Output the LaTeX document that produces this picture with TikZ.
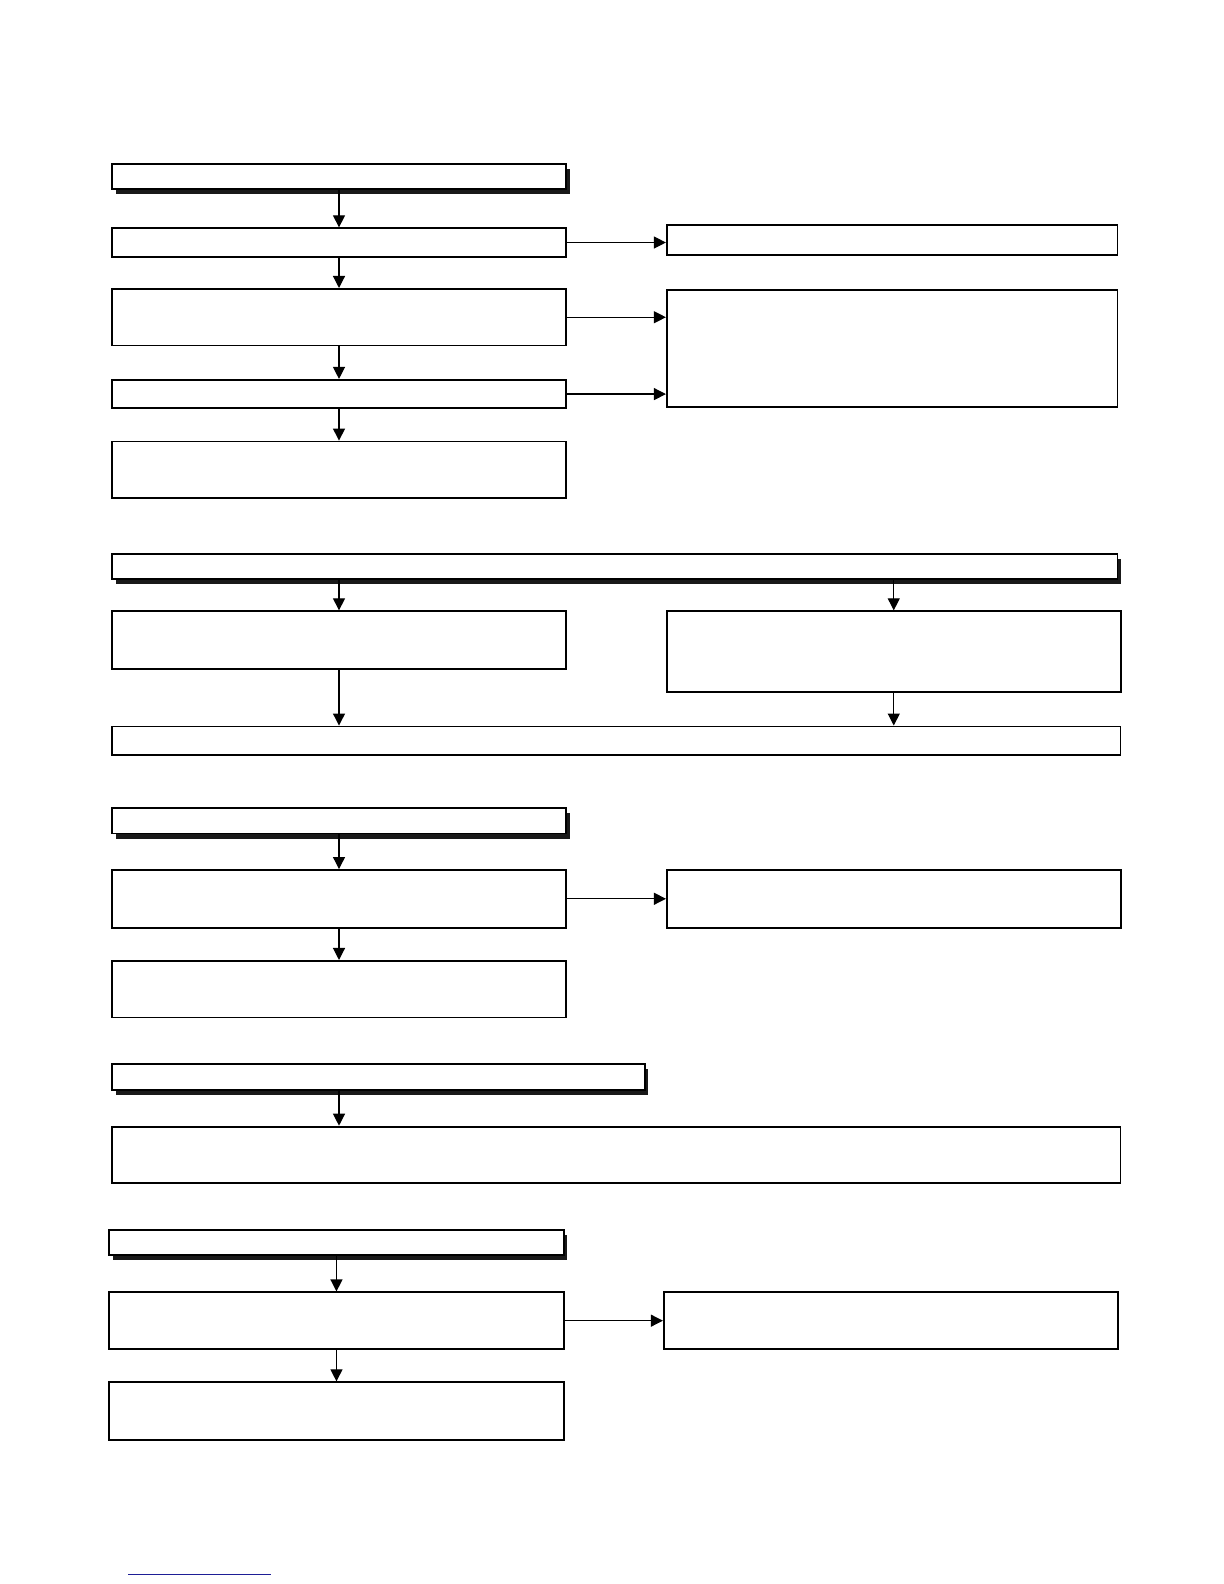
\documentclass[tikz,border=0pt]{standalone}
\usetikzlibrary{arrows.meta, shadows}
\definecolor{linkblue}{RGB}{30,30,150}
\tikzstyle{item} = [rectangle, anchor=north west, draw=black, line width=0.95pt, fill=white, inner sep=0pt]
\tikzstyle{head} = [item, drop shadow={shadow xshift=1.8pt, shadow yshift=-2.5pt, fill=black!90, opacity=1}]
\tikzstyle{arrow} = [line width=0.6pt, -{Triangle[length=6pt, width=6pt]}]

\begin{document}
\begin{tikzpicture}[x=0.50525pt, y=-0.50525pt]
    % first block
    \node (head-a) [head, minimum width=226.9pt, minimum height=12.6pt] at (110,161) {};
    \node (a1)     [item, minimum width=226.9pt, minimum height=14.2pt] at (110,225) {};
    \node (a2)     [item, minimum width=226.9pt, minimum height=28.3pt] at (110,285) {};
    \node (a3)     [item, minimum width=226.9pt, minimum height=14.2pt] at (110,375) {};
    \node (a4)     [item, minimum width=226.9pt, minimum height=28.3pt] at (110,436) {};
    \node (ra1)    [item, minimum width=225.3pt, minimum height=14.7pt] at (659,222) {};
    \node (ra2)    [item, minimum width=225.3pt, minimum height=58.6pt] at (659,286) {};

    \draw [arrow] (head-a) -- (a1);
    \draw [arrow] (a1) -- (a2);
    \draw [arrow] (a2) -- (a3);
    \draw [arrow] (a3) -- (a4);
    \draw [arrow] (a1.east) -- (a1.east -| ra1.west);
    \draw [arrow] (a2.east) -- (a2.east -| ra2.west);
    \draw [arrow] (a3.east) -- (a3.east -| ra2.west);

    % second block
    \node (head-b) [head, minimum width=502.7pt, minimum height=12.6pt] at (110,547) {};
    \node (b1)     [item, minimum width=226.9pt, minimum height=28.8pt] at (110,604) {};
    \node (b2)     [item, minimum width=226.9pt, minimum height=40.4pt] at (659,604) {};
    \node (b3)     [item, minimum width=504.2pt, minimum height=14.2pt] at (110,718) {};

    \draw [arrow] (b1 |- head-b.south) -- (b1);
    \draw [arrow] (b2 |- head-b.south) -- (b2);
    \draw [arrow] (b1) -- (b1 |- b3.north);
    \draw [arrow] (b2) -- (b2 |- b3.north);

    % third block
    \node (head-c) [head, minimum width=226.9pt, minimum height=12.6pt] at (110,799) {};
    \node (c1)     [item, minimum width=226.9pt, minimum height=28.8pt] at (110,860) {};
    \node (c2)     [item, minimum width=226.9pt, minimum height=28.8pt] at (659,860) {};
    \node (c3)     [item, minimum width=226.9pt, minimum height=28.3pt] at (110,950) {};

    \draw [arrow] (head-c) -- (c1);
    \draw [arrow] (c1) -- (c3);
    \draw [arrow] (c1.east) -- (c1.east -| c2.west);

    % fourth block
    \node (head-d) [head, minimum width=266.3pt, minimum height=13.1pt] at (110,1052) {};
    \node (d1)     [item, minimum width=504.2pt, minimum height=28.3pt] at (110,1114) {};

    \draw [arrow] (head-d.south -| c1) -- (d1.north -| c1);

    % fifth block
    \node (head-e) [head, minimum width=227.4pt, minimum height=12.6pt] at (107,1216) {};
    \node (e1)     [item, minimum width=227.4pt, minimum height=28.3pt] at (107,1278) {};
    \node (e2)     [item, minimum width=226.9pt, minimum height=28.3pt] at (656,1278) {};
    \node (e3)     [item, minimum width=227.4pt, minimum height=28.8pt] at (107,1367) {};

    \draw [arrow] (head-e) -- (e1);
    \draw [arrow] (e1) -- (e3);
    \draw [arrow] (e1.east) -- (e1.east -| e2.west);

    \draw [linkblue, line width=0.8pt] (127,1558) -- (268,1558);

    \pgfresetboundingbox
    \useasboundingbox (0pt,0pt) rectangle (612pt,-792pt);
\end{tikzpicture}
\end{document}
